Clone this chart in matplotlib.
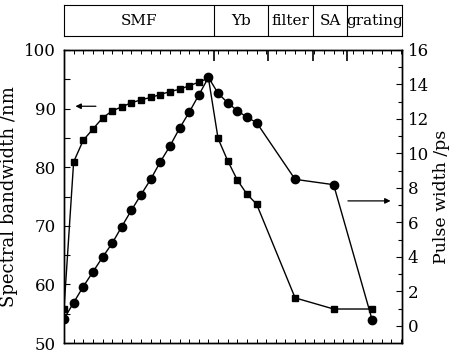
import matplotlib
matplotlib.use("Agg")
import matplotlib.pyplot as plt
from matplotlib.ticker import MultipleLocator

plt.rcParams['font.family'] = ['DejaVu Serif']
plt.rcParams['mathtext.fontset'] = 'dejavuserif'

# position index along the cavity
sq_pos = [0, 1, 2, 3, 4, 5, 6, 7, 8, 9, 10, 11, 12, 13, 14, 15, 16, 17, 18, 19, 20, 24, 28, 32]
sq_bw = [55.8, 80.9, 84.6, 86.5, 88.4, 89.6, 90.3, 91.0, 91.5, 91.9, 92.4, 92.9, 93.3, 93.9,
         94.5, 95.2, 84.9, 81.1, 77.8, 75.4, 73.7, 57.7, 55.8, 55.8]
ci_pos = [0, 1, 2, 3, 4, 5, 6, 7, 8, 9, 10, 11, 12, 13, 14, 15, 16, 17, 18, 19, 20, 24, 28, 32]
ci_pw = [0.41, 1.35, 2.28, 3.13, 3.98, 4.79, 5.76, 6.71, 7.61, 8.50, 9.51, 10.43, 11.46, 12.39,
         13.39, 14.41, 13.49, 12.94, 12.48, 12.10, 11.79, 8.50, 8.19, 0.35]

sections = ["SMF", "Yb", "filter", "SA", "grating"]
boundaries = [0, 15.58, 21.18, 25.86, 29.39, 35.1]

left_ticks = [50, 60, 70, 80, 90, 100]
right_ticks = [0, 2, 4, 6, 8, 10, 12, 14, 16]

W, H = 454, 355
fig = plt.figure(figsize=(W / 100, H / 100), dpi=100)
ax = fig.add_axes([64 / W, (H - 343) / H, (402 - 64) / W, (343 - 50) / H])
ax2 = ax.twinx()

ax.plot(sq_pos, sq_bw, color='black', lw=1.0, marker='s', ms=5.0, mfc='black', mec='black')
ax2.plot(ci_pos, ci_pw, color='black', lw=1.0, marker='o', ms=6.0, mfc='black', mec='black')

ax.set_xlim(boundaries[0], boundaries[-1])
ax.set_ylim(50, 100)
ax2.set_ylim(-0.99, 16.0)

ax.set_yticks(left_ticks)
ax.yaxis.set_minor_locator(MultipleLocator(5))
ax2.set_yticks(right_ticks)
ax2.yaxis.set_minor_locator(MultipleLocator(1))

ax.xaxis.set_minor_locator(MultipleLocator(1))
ax.set_xticks(boundaries[1:-1])
ax.tick_params(axis='x', which='both', top=True, bottom=True, labelbottom=False, direction='in')
ax.tick_params(axis='x', which='major', length=8, width=1.2, bottom=False)
ax.tick_params(axis='x', which='minor', length=3, width=0.7)
ax.tick_params(axis='y', which='both', direction='in', length=4, width=0.8, labelsize=12, pad=6)
ax2.tick_params(axis='y', which='both', direction='in', length=4, width=0.8, labelsize=12, pad=4)
ax2.tick_params(axis='y', which='minor', length=3)

for a in (ax, ax2):
    for s in a.spines.values():
        s.set_linewidth(1.0)

ax.set_ylabel("Spectral bandwidth /nm", fontsize=13, labelpad=4)
ax2.set_ylabel("Pulse width /ps", fontsize=12.5, labelpad=3)

# arrows
ax.annotate("", xy=(0.9, 90.4), xytext=(3.6, 90.4),
            arrowprops=dict(arrowstyle='-|>', color='black', lw=0.9, mutation_scale=8))
ax2.annotate("", xy=(34.2, 7.25), xytext=(29.2, 7.25),
             arrowprops=dict(arrowstyle='-|>', color='black', lw=0.9, mutation_scale=8))

# section table
tab = fig.add_axes([64 / W, (H - 36) / H, (402 - 64) / W, 31 / H])
tab.set_xlim(boundaries[0], boundaries[-1])
tab.set_ylim(0, 1)
tab.set_xticks([])
tab.set_yticks([])
for s in tab.spines.values():
    s.set_linewidth(0.8)
for b in boundaries[1:-1]:
    tab.axvline(b, color='black', lw=0.8)
for i, name in enumerate(sections):
    cx = (boundaries[i] + boundaries[i + 1]) / 2
    tab.text(cx, 0.47, name, ha='center', va='center', fontsize=11)

fig.savefig("out.png", dpi=100)
